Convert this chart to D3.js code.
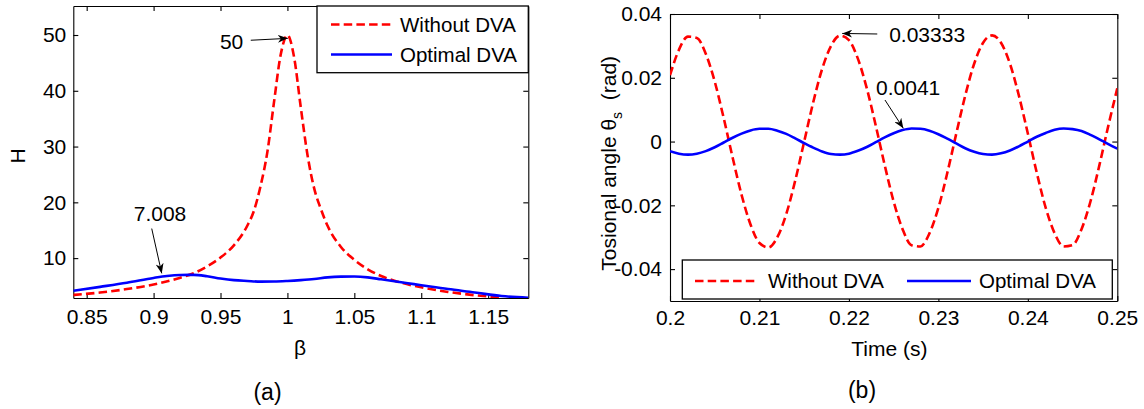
<!DOCTYPE html>
<html><head><meta charset="utf-8">
<script src="https://cdn.jsdelivr.net/npm/d3@7"></script>
<style>
body{margin:0;background:#fff}
svg{display:block}
text{font-family:"Liberation Sans",Arial,Helvetica,sans-serif;fill:#000}
</style>
</head><body>
<svg id="c" width="1144" height="409"></svg>
<script>
// ---------- data: panel (a) ----------
const seriesNames = ["Without DVA", "Optimal DVA"];
const betaWithout = [0.84,0.86,0.88,0.90,0.92,0.93,0.94,0.95,0.96,0.97,0.975,0.98,0.985,0.99,0.995,1.00,1.005,1.01,1.015,1.02,1.025,1.03,1.04,1.05,1.06,1.07,1.08,1.10,1.12,1.14,1.16];
const hWithout    = [3.40,3.83,4.45,5.26,6.50,7.30,8.50,10.1,12.3,15.8,18.5,23.0,29.0,38.0,46.5,50.0,46.0,37.0,28.5,22.5,18.8,15.8,12.0,9.7,8.0,6.8,5.95,4.76,3.94,3.35,2.93];
const betaOptimal = [0.84,0.86,0.88,0.90,0.91,0.92,0.93,0.94,0.95,0.96,0.97,0.98,0.99,1.00,1.01,1.02,1.03,1.04,1.05,1.06,1.07,1.08,1.09,1.10,1.12,1.14,1.16,1.18];
const hOptimal    = [4.15,4.85,5.58,6.45,6.80,6.98,7.00,6.75,6.35,6.05,5.90,5.78,5.80,5.90,6.05,6.25,6.55,6.68,6.70,6.55,6.20,5.85,5.50,5.15,4.45,3.85,3.20,2.90];
const betaTicks = [0.85,0.9,0.95,1,1.05,1.1,1.15];
const betaTickLabels = ["0.85","0.9","0.95","1","1.05","1.1","1.15"];
const hTicks = [10,20,30,40,50];
const hTickLabels = ["10","20","30","40","50"];
const annotationsA = [
  {text:"50",    tx:0.967,  ty:48.75, anchor:"end",    x1:0.9726, y1:49.06, x2:1.0003, y2:49.4},
  {text:"7.008", tx:0.9048, ty:17.96, anchor:"middle", x1:0.8986, y1:15.3,  x2:0.9061, y2:7.26}
];

// ---------- data: panel (b) ----------
const timeValues = [0.200,0.201,0.202,0.203,0.204,0.205,0.206,0.207,0.208,0.209,0.210,0.211,0.212,0.213,0.214,0.215,0.216,0.217,0.218,0.219,0.220,0.221,0.222,0.223,0.224,0.225,0.226,0.227,0.228,0.229,0.230,0.231,0.232,0.233,0.234,0.235,0.236,0.237,0.238,0.239,0.240,0.241,0.242,0.243,0.244,0.245,0.246,0.247,0.248,0.249,0.250];
const thetaWithout = [0.0208,0.0288,0.0329,0.0325,0.0275,0.0188,0.0074,-0.0050,-0.0167,-0.0260,-0.0318,-0.0332,-0.0300,-0.0227,-0.0122,0.0000,0.0122,0.0227,0.0300,0.0332,0.0318,0.0260,0.0167,0.0050,-0.0074,-0.0188,-0.0275,-0.0325,-0.0329,-0.0288,-0.0208,-0.0098,0.0025,0.0144,0.0244,0.0310,0.0333,0.0310,0.0244,0.0144,0.0025,-0.0098,-0.0208,-0.0288,-0.0329,-0.0325,-0.0275,-0.0188,-0.0074,0.0050,0.0167];
const thetaOptimal = [-0.0030,-0.0038,-0.0041,-0.0038,-0.0030,-0.0018,-0.0003,0.0012,0.0025,0.0035,0.0040,0.0040,0.0034,0.0024,0.0010,-0.0005,-0.0019,-0.0031,-0.0039,-0.0041,-0.0038,-0.0029,-0.0017,-0.0002,0.0013,0.0026,0.0036,0.0041,0.0040,0.0034,0.0023,0.0009,-0.0006,-0.0021,-0.0032,-0.0039,-0.0041,-0.0037,-0.0028,-0.0015,0.0000,0.0015,0.0027,0.0037,0.0041,0.0039,0.0033,0.0021,0.0007,-0.0008,-0.0022];
const timeTicks = [0.2,0.21,0.22,0.23,0.24,0.25];
const timeTickLabels = ["0.2","0.21","0.22","0.23","0.24","0.25"];
const thetaTicks = [-0.04,-0.02,0,0.02,0.04];
const thetaTickLabels = ["-0.04","-0.02","0","0.02","0.04"];
const annotationsB = [
  {text:"0.03333", tx:0.2245,  ty:0.03342, anchor:"start", x1:0.22317, y1:0.03373, x2:0.21925, y2:0.03390},
  {text:"0.0041",  tx:0.22303, ty:0.01701, anchor:"start", x1:0.22403, y1:0.01303, x2:0.22608, y2:0.00416}
];

// ---------- drawing ----------
const svg = d3.select("#c");
const FS = 21;
const RED = "#ff0000", BLUE = "#0000ff";
const DASH = "8.5,4.2";
const LW = 2.6;

const defs = svg.append("defs");
defs.append("marker").attr("id","arr").attr("viewBox","0 0 10 8")
  .attr("refX",10).attr("refY",4).attr("markerWidth",10).attr("markerHeight",8)
  .attr("markerUnits","userSpaceOnUse").attr("orient","auto")
  .append("path").attr("d","M0,0 L10,4 L0,8 L3,4 Z").attr("fill","#000");

function panel(cfg){
  const g = svg.append("g");
  const x = d3.scaleLinear().domain(cfg.xDomain).range([cfg.left, cfg.right]);
  const y = d3.scaleLinear().domain(cfg.yDomain).range([cfg.bottom, cfg.top]);
  const clipId = "clip"+cfg.id;
  defs.append("clipPath").attr("id",clipId).append("rect")
    .attr("x",cfg.left).attr("y",cfg.top).attr("width",cfg.right-cfg.left).attr("height",cfg.bottom-cfg.top);

  // axes
  const fx = (d)=> cfg.xLabels[cfg.xTicks.indexOf(d)];
  const fy = (d)=> cfg.yLabels[cfg.yTicks.indexOf(d)];
  const ax = g.append("g").attr("transform",`translate(0,${cfg.bottom})`)
    .call(d3.axisBottom(x).tickValues(cfg.xTicks).tickFormat(fx).tickSizeInner(-5).tickSizeOuter(0).tickPadding(cfg.xPad));
  const ay = g.append("g").attr("transform",`translate(${cfg.left},0)`)
    .call(d3.axisLeft(y).tickValues(cfg.yTicks).tickFormat(fy).tickSizeInner(-5).tickSizeOuter(0).tickPadding(cfg.yPad));
  const at = g.append("g").attr("transform",`translate(0,${cfg.top})`)
    .call(d3.axisTop(x).tickValues(cfg.xTicks).tickFormat("").tickSizeInner(-5).tickSizeOuter(0));
  const ar = g.append("g").attr("transform",`translate(${cfg.right},0)`)
    .call(d3.axisRight(y).tickValues(cfg.yTicks).tickFormat("").tickSizeInner(-5).tickSizeOuter(0));
  [ax,ay,at,ar].forEach(a=>{
    a.selectAll("path,line").attr("stroke","#000").attr("stroke-width",1.1);
    a.selectAll("text").attr("font-size",FS).attr("font-family",'"Liberation Sans",Arial,sans-serif').attr("fill","#000");
  });

  // lines
  const lg = g.append("g").attr("clip-path",`url(#${clipId})`);
  cfg.series.forEach(s=>{
    const pts = s.xs.map((v,i)=>[v, s.ys[i]]);
    lg.append("path").datum(pts)
      .attr("fill","none").attr("stroke",s.color).attr("stroke-width",LW)
      .attr("stroke-dasharray",s.dash||null).attr("stroke-linejoin","round")
      .attr("d", d3.line().x(d=>x(d[0])).y(d=>y(d[1])).curve(d3.curveMonotoneX));
  });

  // annotations
  cfg.annotations.forEach(a=>{
    g.append("text").attr("x",x(a.tx)).attr("y",y(a.ty)).attr("dy","0.35em")
      .attr("text-anchor",a.anchor).attr("font-size",FS).text(a.text);
    g.append("line").attr("x1",x(a.x1)).attr("y1",y(a.y1)).attr("x2",x(a.x2)).attr("y2",y(a.y2))
      .attr("stroke","#000").attr("stroke-width",1).attr("marker-end","url(#arr)");
  });

  // legend
  const L = cfg.legend;
  g.append("rect").attr("x",L.x0).attr("y",L.y0).attr("width",L.x1-L.x0).attr("height",L.y1-L.y0)
    .attr("fill","#fff").attr("stroke","#000").attr("stroke-width",1.3);
  cfg.series.forEach((s,i)=>{
    const it = L.items[i];
    g.append("line").attr("x1",it.lx0).attr("x2",it.lx1).attr("y1",it.ly).attr("y2",it.ly)
      .attr("stroke",s.color).attr("stroke-width",LW).attr("stroke-dasharray",s.dash||null);
    g.append("text").attr("x",it.tx).attr("y",it.ly).attr("dy","0.36em").attr("font-size",20.5).text(s.name);
  });
  return {x,y,g};
}

panel({
  id:"a", left:73.3, right:528.3, top:6, bottom:298,
  xDomain:[0.84,1.18], yDomain:[2.85,55.2],
  xTicks:betaTicks, xLabels:betaTickLabels, yTicks:hTicks, yLabels:hTickLabels,
  xPad:11, yPad:7,
  series:[
    {name:seriesNames[0], xs:betaWithout, ys:hWithout, color:RED, dash:DASH},
    {name:seriesNames[1], xs:betaOptimal, ys:hOptimal, color:BLUE}
  ],
  annotations:annotationsA,
  legend:{x0:317, x1:528.3, y0:6, y1:72.7, items:[
    {lx0:331, lx1:392, ly:24.5, tx:400},
    {lx0:331, lx1:392, ly:54.5, tx:400}
  ]}
});

panel({
  id:"b", left:670, right:1117.3, top:14, bottom:301,
  xDomain:[0.2,0.25], yDomain:[-0.05,0.04],
  xTicks:timeTicks, xLabels:timeTickLabels, yTicks:thetaTicks, yLabels:thetaTickLabels,
  xPad:9, yPad:8,
  series:[
    {name:seriesNames[0], xs:timeValues, ys:thetaWithout, color:RED, dash:DASH},
    {name:seriesNames[1], xs:timeValues, ys:thetaOptimal, color:BLUE}
  ],
  annotations:annotationsB,
  legend:{x0:682.3, x1:1112.3, y0:260, y1:299, items:[
    {lx0:695, lx1:758, ly:281, tx:768},
    {lx0:907, lx1:971, ly:281, tx:979}
  ]}
});

// axis titles
svg.append("text").attr("transform","translate(17.3,156) rotate(-90)").attr("text-anchor","middle")
  .attr("dy","0.36em").attr("font-size",FS).text("H");
svg.append("text").attr("x",300).attr("y",347.7).attr("text-anchor","middle").attr("dy","0.36em")
  .attr("font-size",FS).text("β");
svg.append("text").attr("x",889.3).attr("y",348.3).attr("text-anchor","middle").attr("dy","0.36em")
  .attr("font-size",FS).text("Time (s)");
const yl = svg.append("text").attr("transform","translate(608.3,163.3) rotate(-90)").attr("text-anchor","middle")
  .attr("dy","0.36em").attr("font-size",FS);
yl.append("tspan").text("Tosional angle θ");
yl.append("tspan").attr("dy",6).attr("font-size",14).text("s");
yl.append("tspan").attr("dy",-6).text("  (rad)").attr("xml:space","preserve");

// panel captions
svg.append("text").attr("x",267.5).attr("y",392).attr("text-anchor","middle").attr("dy","0.35em")
  .attr("font-family",'"Liberation Serif","Times New Roman",serif').attr("font-size",23).text("(a)");
svg.append("text").attr("x",862).attr("y",390).attr("text-anchor","middle").attr("dy","0.35em")
  .attr("font-family",'"Liberation Serif","Times New Roman",serif').attr("font-size",23).text("(b)");
</script>
</body></html>
